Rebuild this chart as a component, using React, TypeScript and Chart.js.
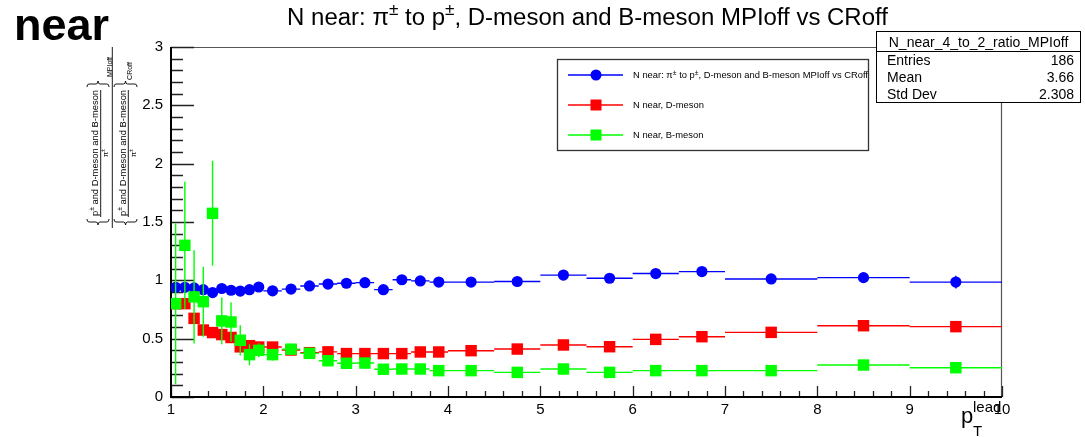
import React, { useEffect, useRef } from 'react';
import { Chart, registerables } from 'chart.js';

Chart.register(...registerables);

// ---------------- data ----------------
const xCenters = [
  1.05, 1.15, 1.25, 1.35, 1.45, 1.55, 1.65, 1.75, 1.85, 1.95,
  2.1, 2.3, 2.5, 2.7, 2.9, 3.1, 3.3, 3.5, 3.7, 3.9,
  4.25, 4.75, 5.25, 5.75, 6.25, 6.75,
  7.5, 8.5, 9.5,
];
const xHalfWidths = [
  0.05, 0.05, 0.05, 0.05, 0.05, 0.05, 0.05, 0.05, 0.05, 0.05,
  0.1, 0.1, 0.1, 0.1, 0.1, 0.1, 0.1, 0.1, 0.1, 0.1,
  0.25, 0.25, 0.25, 0.25, 0.25, 0.25,
  0.5, 0.5, 0.5,
];
const ratioValues = [
  0.94, 0.94, 0.935, 0.92, 0.895, 0.93, 0.915, 0.908, 0.92, 0.943,
  0.91, 0.925, 0.952, 0.968, 0.975, 0.98, 0.92, 1.005, 0.995, 0.985,
  0.985, 0.99, 1.045, 1.018, 1.058, 1.075,
  1.012, 1.023, 0.985,
];
const ratioErrors = [
  0.03, 0.03, 0.03, 0.03, 0.03, 0.03, 0.03, 0.03, 0.03, 0.03,
  0.02, 0.02, 0.02, 0.02, 0.02, 0.02, 0.03, 0.02, 0.02, 0.02,
  0.02, 0.02, 0.02, 0.02, 0.02, 0.02,
  0.02, 0.03, 0.055,
];
const dMesonValues = [
  0.8, 0.8, 0.674, 0.574, 0.552, 0.535, 0.51, 0.43, 0.44, 0.428,
  0.428, 0.403, 0.38, 0.387, 0.372, 0.372, 0.372, 0.372, 0.386, 0.386,
  0.397, 0.411, 0.446, 0.431, 0.494, 0.517,
  0.554, 0.611, 0.603,
];
const dMesonErrors = [
  0.03, 0.03, 0.03, 0.02, 0.02, 0.02, 0.02, 0.02, 0.02, 0.02,
  0.015, 0.015, 0.015, 0.015, 0.015, 0.015, 0.015, 0.015, 0.015, 0.015,
  0.015, 0.015, 0.015, 0.015, 0.015, 0.015,
  0.02, 0.02, 0.02,
];
const bMesonValues = [
  0.8, 1.3, 0.858, 0.817, 1.574, 0.652, 0.643, 0.486, 0.363, 0.4,
  0.363, 0.41, 0.374, 0.311, 0.289, 0.291, 0.238, 0.24, 0.24, 0.226,
  0.226, 0.211, 0.24, 0.211, 0.226, 0.226,
  0.226, 0.274, 0.251,
];
const bMesonErrors = [
  0.69, 0.545, 0.4, 0.3, 0.45, 0.2, 0.17, 0.13, 0.09, 0.06,
  0.05, 0.04, 0.03, 0.03, 0.02, 0.02, 0.02, 0.02, 0.02, 0.02,
  0.015, 0.015, 0.015, 0.015, 0.015, 0.015,
  0.015, 0.015, 0.015,
];
const seriesLabels = [
  'N near: π± to p±, D-meson and B-meson MPIoff vs CRoff',
  'N near, D-meson',
  'N near, B-meson',
];
const chartTitle = 'N near: π± to p±, D-meson and B-meson MPIoff vs CRoff';
const cornerLabel = 'near';
const xTickValues = [1, 2, 3, 4, 5, 6, 7, 8, 9, 10];
const yTickValues = [0, 0.5, 1, 1.5, 2, 2.5, 3];
const statsTitle = 'N_near_4_to_2_ratio_MPIoff';
const statsLabels = ['Entries', 'Mean', 'Std Dev'];
const statsValues = ['186', '3.66', '2.308'];
const yTitleNumerator = 'p± and D-meson and B-meson';
const yTitleDenominator = 'π±';
const yTitleSubs = ['MPIoff', 'CRoff'];

// ---------------- style ----------------
const FONT = '"Liberation Sans", Arial, Helvetica, sans-serif';
const BLUE = '#0000ff';
const RED = '#ff0000';
const GREEN = '#00ff00';

type Seg = { t: string; sup?: boolean; sub?: boolean };

function toSegs(text: string): Seg[] {
  const out: Seg[] = [];
  let buf = '';
  for (const ch of text) {
    if (ch === '±') {
      if (buf) out.push({ t: buf });
      buf = '';
      out.push({ t: '±', sup: true });
    } else buf += ch;
  }
  if (buf) out.push({ t: buf });
  return out;
}

function segFont(s: Seg, size: number, weight: string) {
  const sz = s.sup || s.sub ? size * 0.72 : size;
  return `${weight} ${sz}px ${FONT}`;
}

function richWidth(ctx: CanvasRenderingContext2D, segs: Seg[], size: number, weight = 'normal') {
  let w = 0;
  for (const s of segs) {
    ctx.font = segFont(s, size, weight);
    w += ctx.measureText(s.t).width;
  }
  return w;
}

function drawRich(
  ctx: CanvasRenderingContext2D,
  segs: Seg[],
  x: number,
  y: number,
  size: number,
  align: 'left' | 'center' | 'right',
  weight = 'normal'
) {
  const total = richWidth(ctx, segs, size, weight);
  let cx = align === 'center' ? x - total / 2 : align === 'right' ? x - total : x;
  ctx.textAlign = 'left';
  ctx.textBaseline = 'alphabetic';
  for (const s of segs) {
    ctx.font = segFont(s, size, weight);
    const dy = s.sup ? -size * 0.4 : s.sub ? size * 0.25 : 0;
    ctx.fillText(s.t, cx, y + dy);
    cx += ctx.measureText(s.t).width;
  }
}

function rotText(ctx: CanvasRenderingContext2D, text: string, cx: number, cy: number, size: number) {
  ctx.save();
  ctx.translate(cx, cy);
  ctx.rotate(-Math.PI / 2);
  drawRich(ctx, toSegs(text), 0, size * 0.35, size, 'center');
  ctx.restore();
}

function brace(ctx: CanvasRenderingContext2D, x0: number, x1: number, yb: number, dir: number) {
  const mid = (x0 + x1) / 2;
  const h = 3 * dir;
  ctx.beginPath();
  ctx.moveTo(x0, yb - h);
  ctx.quadraticCurveTo(x0, yb, x0 + 2, yb);
  ctx.lineTo(mid - 2, yb);
  ctx.quadraticCurveTo(mid, yb, mid, yb + h);
  ctx.quadraticCurveTo(mid, yb, mid + 2, yb);
  ctx.lineTo(x1 - 2, yb);
  ctx.quadraticCurveTo(x1, yb, x1, yb - h);
  ctx.stroke();
}

function makePoints(values: number[], errors: number[]) {
  return xCenters.map((x, i) => ({ x, y: values[i], xErr: xHalfWidths[i], yErr: errors[i] }));
}

// ---------------- plugins ----------------
const framePlugin = {
  id: 'rootFrame',
  beforeDatasetsDraw(chart: any) {
    const { ctx, chartArea: a, scales } = chart;
    const xs = scales.x;
    const ys = scales.y;
    ctx.save();
    ctx.strokeStyle = '#555';
    ctx.lineWidth = 1.2;
    ctx.beginPath();
    ctx.moveTo(a.left, a.top + 0.5);
    ctx.lineTo(a.right, a.top + 0.5);
    ctx.moveTo(a.right - 0.5, a.top);
    ctx.lineTo(a.right - 0.5, a.bottom);
    ctx.stroke();
    ctx.strokeStyle = '#222';
    ctx.lineWidth = 1.3;
    ctx.beginPath();
    for (let i = 0; i < yTickValues.length; i++) {
      const v = yTickValues[i];
      const py = Math.round(ys.getPixelForValue(v)) + 0.5;
      ctx.moveTo(a.left, py);
      ctx.lineTo(a.left + 23, py);
      if (i < yTickValues.length - 1) {
        const step = (yTickValues[i + 1] - v) / 5;
        for (let k = 1; k < 5; k++) {
          const my = Math.round(ys.getPixelForValue(v + k * step)) + 0.5;
          ctx.moveTo(a.left, my);
          ctx.lineTo(a.left + 12, my);
        }
      }
    }
    for (let i = 0; i < xTickValues.length; i++) {
      const v = xTickValues[i];
      const px = Math.round(xs.getPixelForValue(v)) + 0.5;
      ctx.moveTo(px, a.bottom);
      ctx.lineTo(px, a.bottom - 11);
      if (i < xTickValues.length - 1) {
        const step = (xTickValues[i + 1] - v) / 5;
        for (let k = 1; k < 5; k++) {
          const mx = Math.round(xs.getPixelForValue(v + k * step)) + 0.5;
          ctx.moveTo(mx, a.bottom);
          ctx.lineTo(mx, a.bottom - 6);
        }
      }
    }
    ctx.stroke();
    ctx.strokeStyle = '#000';
    ctx.lineWidth = 2;
    ctx.beginPath();
    ctx.moveTo(a.left, a.top);
    ctx.lineTo(a.left, a.bottom);
    ctx.lineTo(a.right, a.bottom);
    ctx.stroke();
    ctx.restore();
  },
};

const errorBarPlugin = {
  id: 'errorBars',
  beforeDatasetDraw(chart: any, args: any) {
    const ds = chart.data.datasets[args.index];
    const xs = chart.scales.x;
    const ys = chart.scales.y;
    const ctx = chart.ctx;
    ctx.save();
    ctx.strokeStyle = ds.borderColor;
    ctx.lineWidth = 1.4;
    ctx.beginPath();
    for (const p of ds.data) {
      const x0 = xs.getPixelForValue(p.x - p.xErr);
      const x1 = xs.getPixelForValue(p.x + p.xErr);
      const xc = xs.getPixelForValue(p.x);
      const yc = ys.getPixelForValue(p.y);
      const y0 = ys.getPixelForValue(p.y - p.yErr);
      const y1 = ys.getPixelForValue(p.y + p.yErr);
      ctx.moveTo(x0, yc);
      ctx.lineTo(x1, yc);
      ctx.moveTo(xc, y0);
      ctx.lineTo(xc, y1);
    }
    ctx.stroke();
    ctx.restore();
  },
};

const overlayPlugin = {
  id: 'overlay',
  afterDraw(chart: any) {
    const ctx: CanvasRenderingContext2D = chart.ctx;
    ctx.save();
    ctx.fillStyle = '#000';

    // corner label
    ctx.font = `bold 45px ${FONT}`;
    ctx.textAlign = 'left';
    ctx.textBaseline = 'alphabetic';
    ctx.fillText(cornerLabel, 14, 40);

    // title
    const tSegs = toSegs(chartTitle);
    const w20 = richWidth(ctx, tSegs, 20);
    const tSize = (20 * 601) / w20;
    ctx.fillStyle = '#000';
    drawRich(ctx, tSegs, 587.5, 25, tSize, 'center');

    // y-axis title (rotated)
    ctx.strokeStyle = '#000';
    ctx.lineWidth = 0.9;
    const groups = [
      { num: 94.5, line: 100.7, den: 105.5, b0: 87, b1: 109, sub: 109.5, subY: 67 },
      { num: 122.5, line: 128.3, den: 133, b0: 114, b1: 137, sub: 130, subY: 71 },
    ];
    groups.forEach((g, i) => {
      ctx.fillStyle = '#000';
      rotText(ctx, yTitleNumerator, g.num, 153, 9.4);
      rotText(ctx, yTitleDenominator, g.den, 153, 7.5);
      rotText(ctx, yTitleSubs[i], g.sub, g.subY, 7);
      ctx.beginPath();
      ctx.moveTo(g.line, 90);
      ctx.lineTo(g.line, 217);
      ctx.stroke();
      brace(ctx, g.b0, g.b1, 222, 1);
      brace(ctx, g.b0, g.b1, 84, -1);
    });
    ctx.beginPath();
    ctx.moveTo(112.3, 47);
    ctx.lineTo(112.3, 228);
    ctx.stroke();

    // x-axis title p_T^lead
    ctx.fillStyle = '#000';
    ctx.textAlign = 'left';
    ctx.textBaseline = 'alphabetic';
    ctx.font = `22px ${FONT}`;
    ctx.fillText('p', 961, 422.5);
    ctx.font = `15px ${FONT}`;
    ctx.fillText('lead', 973, 412);
    ctx.fillText('T', 973, 436);

    // legend
    const lx = 557.5, ly = 59.5, lw = 311, lh = 91;
    ctx.fillStyle = '#fff';
    ctx.fillRect(lx, ly, lw, lh);
    ctx.strokeStyle = '#333';
    ctx.lineWidth = 1.3;
    ctx.strokeRect(lx, ly, lw, lh);
    const rowY = [75, 105, 135];
    const lSegs0 = toSegs(seriesLabels[0]);
    const lSize = (9.4 * 235) / richWidth(ctx, lSegs0, 9.4);
    chart.data.datasets.forEach((ds: any, i: number) => {
      const y = rowY[i];
      ctx.strokeStyle = ds.borderColor;
      ctx.lineWidth = 1.5;
      ctx.beginPath();
      ctx.moveTo(568, y);
      ctx.lineTo(623, y);
      ctx.stroke();
      ctx.fillStyle = ds.backgroundColor;
      if (ds.pointStyle === 'circle') {
        ctx.beginPath();
        ctx.arc(596, y, 5.5, 0, Math.PI * 2);
        ctx.fill();
      } else {
        ctx.fillRect(590.5, y - 5.5, 11, 11);
      }
      ctx.fillStyle = '#000';
      drawRich(ctx, toSegs(ds.label), 633, y + 3.3, lSize, 'left');
    });

    // stats box
    const sx = 876.5, sy = 31.5, sw = 204, sh = 71;
    ctx.fillStyle = '#fff';
    ctx.fillRect(sx, sy, sw, sh);
    ctx.strokeStyle = '#000';
    ctx.lineWidth = 1;
    ctx.strokeRect(sx, sy, sw, sh);
    ctx.beginPath();
    ctx.moveTo(sx, 51.5);
    ctx.lineTo(sx + sw, 51.5);
    ctx.stroke();
    ctx.fillStyle = '#000';
    ctx.font = `14px ${FONT}`;
    ctx.textBaseline = 'alphabetic';
    ctx.textAlign = 'center';
    ctx.fillText(statsTitle, sx + sw / 2, 47);
    const rowBase = [65, 82, 99];
    statsLabels.forEach((lab, i) => {
      ctx.textAlign = 'left';
      ctx.fillText(lab, 887, rowBase[i]);
      ctx.textAlign = 'right';
      ctx.fillText(statsValues[i], 1074, rowBase[i]);
    });
    ctx.restore();
  },
};

export default function App() {
  const canvasRef = useRef<HTMLCanvasElement | null>(null);

  useEffect(() => {
    document.body.style.margin = '0';
    const canvas = canvasRef.current;
    if (!canvas) return;
    const chart = new Chart(canvas, {
      type: 'scatter',
      data: {
        datasets: [
          {
            label: seriesLabels[0],
            data: makePoints(ratioValues, ratioErrors),
            pointStyle: 'circle',
            pointRadius: 5.6,
            pointBorderWidth: 0,
            backgroundColor: BLUE,
            borderColor: BLUE,
            showLine: false,
            order: 3,
          } as any,
          {
            label: seriesLabels[1],
            data: makePoints(dMesonValues, dMesonErrors),
            pointStyle: 'rect',
            pointRadius: 8.1,
            pointBorderWidth: 0,
            backgroundColor: RED,
            borderColor: RED,
            showLine: false,
            order: 2,
          } as any,
          {
            label: seriesLabels[2],
            data: makePoints(bMesonValues, bMesonErrors),
            pointStyle: 'rect',
            pointRadius: 8.1,
            pointBorderWidth: 0,
            backgroundColor: GREEN,
            borderColor: GREEN,
            showLine: false,
            order: 1,
          } as any,
        ],
      },
      options: {
        responsive: false,
        animation: false,
        events: [],
        layout: { padding: { left: 0, top: 47, right: 83, bottom: 0 } },
        plugins: {
          legend: { display: false },
          title: { display: false },
          tooltip: { enabled: false },
        },
        scales: {
          x: {
            type: 'linear',
            min: 1,
            max: 10,
            afterFit: (s: any) => {
              s.height = 40;
            },
            afterBuildTicks: (s: any) => {
              s.ticks = xTickValues.map((v) => ({ value: v }));
            },
            ticks: {
              color: '#000',
              font: { family: FONT, size: 15 },
              padding: 4,
              maxRotation: 0,
              autoSkip: false,
              callback: (v: any) => String(v),
            },
            grid: { display: false, drawTicks: false },
            border: { display: false },
          },
          y: {
            type: 'linear',
            min: 0,
            max: 3,
            afterFit: (s: any) => {
              s.width = 171;
            },
            afterBuildTicks: (s: any) => {
              s.ticks = yTickValues.map((v) => ({ value: v }));
            },
            ticks: {
              color: '#000',
              font: { family: FONT, size: 15 },
              padding: 8,
              autoSkip: false,
              callback: (v: any) => String(v),
            },
            grid: { display: false, drawTicks: false },
            border: { display: false },
          },
        },
      } as any,
      plugins: [framePlugin, errorBarPlugin, overlayPlugin] as any,
    });
    return () => {
      chart.destroy();
    };
  }, []);

  return (
    <div style={{ width: 1085, height: 437, position: 'relative', background: '#fff' }}>
      <canvas ref={canvasRef} width={1085} height={437} style={{ display: 'block' }} />
    </div>
  );
}
